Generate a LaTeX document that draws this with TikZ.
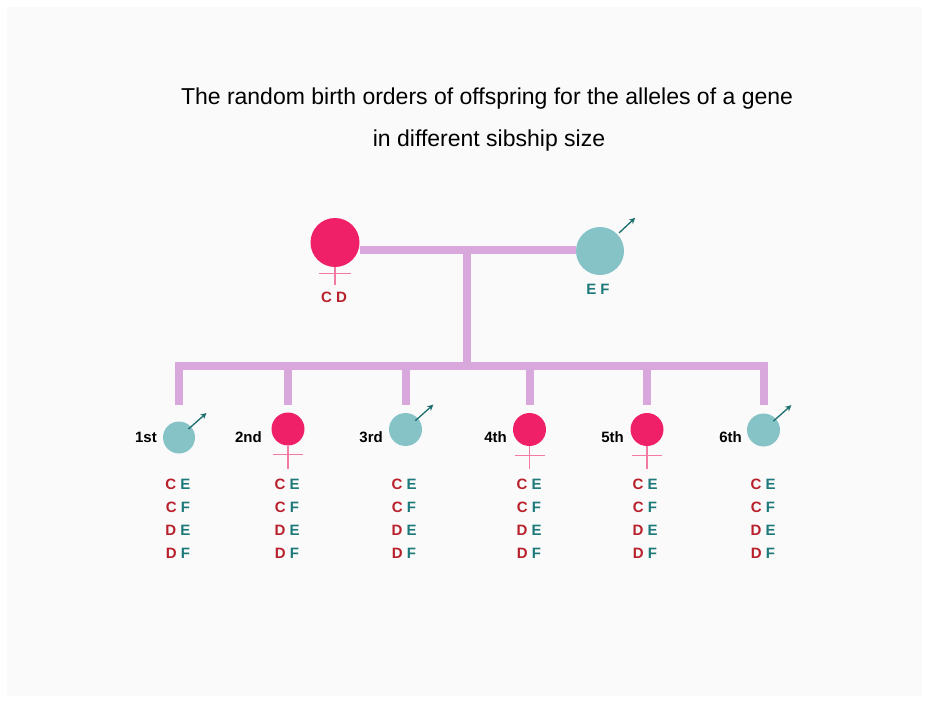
\documentclass[tikz,border=0pt]{standalone}
\usepackage{fontspec}
\setmainfont{Liberation Sans}
\usetikzlibrary{arrows.meta}

\definecolor{femfill}{HTML}{F02068}
\definecolor{malefill}{HTML}{86C3C7}
\definecolor{bond}{HTML}{D8A8DC}
\definecolor{femsign}{HTML}{F27AA5}
\definecolor{malesign}{HTML}{1C6E6E}
\definecolor{alleleA}{HTML}{B8202C}
\definecolor{alleleB}{HTML}{1E7A7A}
\definecolor{paper}{HTML}{FAFAFA}

% one column of allele pairs under a child
\newcommand{\allelecol}{%
  {\color{alleleA}C} {\color{alleleB}E}\\
  {\color{alleleA}C} {\color{alleleB}F}\\
  {\color{alleleA}D} {\color{alleleB}E}\\
  {\color{alleleA}D} {\color{alleleB}F}}

\begin{document}
\begin{tikzpicture}[x=1pt,y=-1pt,
  female/.style={circle,fill=femfill,inner sep=0pt,minimum size=#1},
  male/.style={circle,fill=malefill,inner sep=0pt,minimum size=#1},
  bondline/.style={draw=bond,line width=8pt,line join=miter},
  femline/.style={draw=femsign,line width=1.2pt},
  malearrow/.style={draw=malesign,line width=1.3pt,-{Stealth[length=6pt,width=6pt]}},
  titletext/.style={font=\fontsize{23}{27}\selectfont,inner sep=0pt},
  ordertext/.style={font=\bfseries\fontsize{15}{17}\selectfont,inner sep=0pt,anchor=east},
  alleles/.style={font=\bfseries\fontsize{15}{23}\selectfont,inner sep=0pt,align=center,anchor=north},
]
% page and panel
\fill[white] (0,0) rectangle (929,703);
\fill[paper] (7,7) rectangle (922,696);
\useasboundingbox (0,0) rectangle (929,703);

% title
\node[titletext] (t1) at (487,99) {The random birth orders of offspring for the alleles of a gene};
\node[titletext] (t2) at (489,141) {in different sibship size};

% parents
\node[female=49pt] (m) at (335,242.5) {};
\node[male=48pt] (f) at (600,251) {};

% children
\node[male=32pt]   (c1) at (179,437.5) {};
\node[female=33pt] (c2) at (288,429) {};
\node[male=33pt]   (c3) at (405.5,429.5) {};
\node[female=33pt] (c4) at (529.5,429.5) {};
\node[female=33pt] (c5) at (647,429.5) {};
\node[male=33pt]   (c6) at (763.5,430) {};

% pedigree lines
\coordinate (bar) at (467,250);
\coordinate (sib) at (467,366);
\coordinate (droptop) at (0,405);
\draw[bondline] (m.east |- bar) -- (f.west |- bar);
\draw[bondline] (bar) -- (sib);
\draw[bondline] (c1 |- droptop) -- (c1 |- sib) -- (c6 |- sib) -- (c6 |- droptop);
\foreach \c in {c2,c3,c4,c5}
  \draw[bondline] (\c |- sib) -- (\c |- droptop);

% sex symbols
\draw[femline] (m.south) -- ++(0,18);
\draw[femline] (m.south) ++(-16,6) -- ++(32,0);
\foreach \c in {c2,c4,c5}{
  \draw[femline] (\c.south) -- ++(0,23);
  \draw[femline] (\c.south) ++(-15,9) -- ++(30,0);
}
\draw[malearrow] (f.45) ++(2,-1) -- ++(16,-15);
\foreach \c in {c1,c3,c6}
  \draw[malearrow] (\c.45) ++(-2,3) -- ++(18,-16);

% parent genotypes
\node[alleles,anchor=center,text=alleleA] (gm) at (334,297) {C D};
\node[alleles,anchor=center,text=alleleB] (gf) at (598,289) {E F};

% birth order labels
\node[ordertext] (o1) at (157,437) {1st};
\node[ordertext] (o2) at (262,437) {2nd};
\node[ordertext] (o3) at (383,437) {3rd};
\node[ordertext] (o4) at (507,437) {4th};
\node[ordertext] (o5) at (624,437) {5th};
\node[ordertext] (o6) at (742,437) {6th};

% allele combinations
\foreach \c/\x in {c1/178,c2/287,c3/404,c4/529,c5/645,c6/763}
  \node[alleles] (a\c) at (\x,479) {\allelecol};
\end{tikzpicture}
\end{document}
